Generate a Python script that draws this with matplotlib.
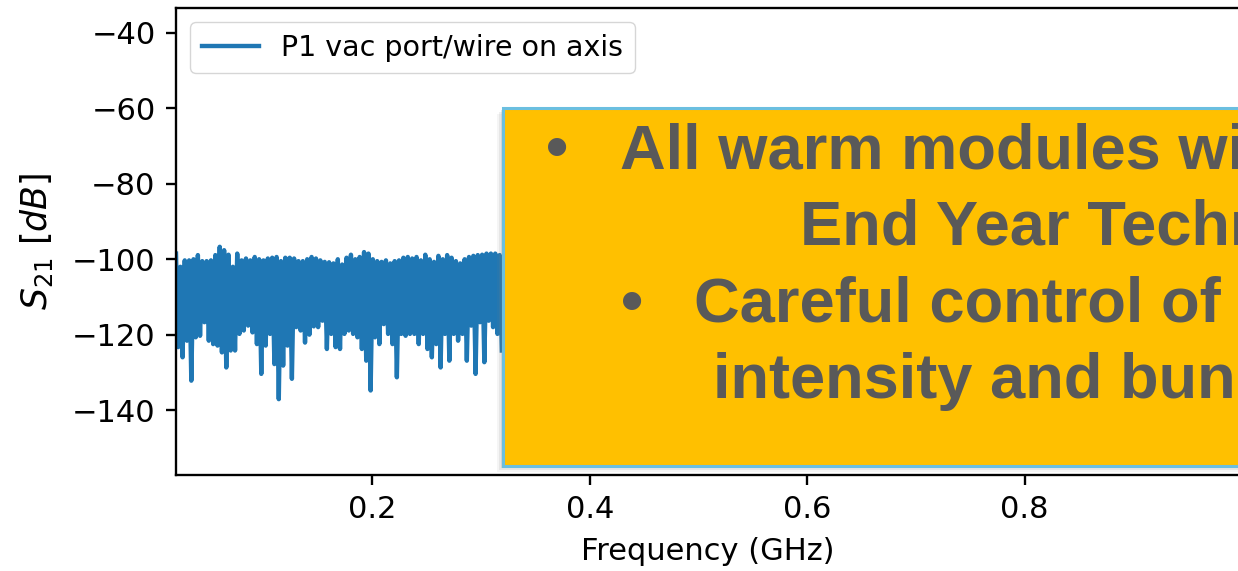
import numpy as np
import matplotlib
matplotlib.use("Agg")
from matplotlib import pyplot as plt
from matplotlib.patches import Rectangle

# S21 noise floor visible left of the overlay box: local maxima and minima (dB)
upper_db = [-98.5, -102.0, -100.3, -100.3, -100.0, -98.9, -100.5, -100.5, -100.3, -98.9,
            -96.7, -97.6, -98.8, -102.0, -98.5, -100.3, -99.8, -100.3, -99.4, -100.0,
            -100.3, -99.8, -99.6, -99.4, -100.5, -99.6, -99.6, -99.8, -100.5, -100.5,
            -100.0, -99.4, -99.8, -100.3, -100.7, -100.8, -101.1, -100.0, -101.4, -99.6,
            -98.8, -100.0, -99.4, -98.1, -98.5, -100.0, -100.5, -100.7, -100.3, -101.1,
            -100.5, -100.3, -99.6, -99.4, -99.8, -99.4, -100.3, -98.8, -100.0, -100.7,
            -99.1, -100.0, -98.9, -99.6, -100.5, -101.1, -100.0, -99.4, -99.1, -98.9,
            -98.8, -98.5, -98.5, -98.5, -98.9]
lower_db = [-123.3, -126.0, -121.6, -132.2, -120.7, -120.3, -116.7, -121.6, -122.5, -122.9,
            -124.7, -128.7, -124.2, -124.2, -119.8, -118.9, -117.6, -119.4, -122.5, -130.4,
            -122.9, -119.8, -127.8, -137.1, -128.2, -122.9, -131.7, -118.0, -118.9, -122.1,
            -120.0, -117.8, -118.0, -116.3, -123.8, -119.8, -123.3, -123.8, -119.8, -118.9,
            -119.8, -120.7, -123.8, -126.9, -134.8, -120.7, -122.5, -117.2, -119.8, -122.5,
            -131.3, -119.8, -120.3, -119.8, -119.8, -122.5, -119.8, -123.8, -126.0, -122.5,
            -128.7, -119.8, -126.9, -119.8, -121.6, -119.8, -126.9, -117.6, -130.4, -116.7,
            -127.3, -116.3, -118.0, -119.8, -124.2]
f_start, f_stop = 0.0193, 0.319  # GHz

legend_label = "P1 vac port/wire on axis"
box_lines = ["All warm modules with", "End Year Technical Stop",
             "Careful control of beam", "intensity and bunch length"]

s21 = np.ravel(np.column_stack([upper_db, lower_db]))
freq = np.linspace(f_start, f_stop, len(s21))

k = 2.1  # overall scale of the default matplotlib look
plt.rcParams.update({
    "font.size": 22,
    "axes.linewidth": 0.8 * k,
    "xtick.major.size": 3.5 * k, "ytick.major.size": 3.5 * k,
    "xtick.major.width": 0.8 * k, "ytick.major.width": 0.8 * k,
    "xtick.major.pad": 3.5 * k, "ytick.major.pad": 3.5 * k,
})

W, H = 1238, 571
fig = plt.figure(figsize=(W / 100, H / 100), dpi=100)
ax = fig.add_axes([176 / W, 96 / H, (1240 - 176) / W, 467 / H])
ax.plot(freq, s21, color="#1f77b4", linewidth=1.5 * k, label=legend_label)
ax.set_xlim(0.0193, 0.998)
ax.set_ylim(-157.2, -33.4)
ax.set_xticks([0.2, 0.4, 0.6, 0.8])
ax.set_yticks([-140, -120, -100, -80, -60, -40])
ax.set_xlabel("Frequency (GHz)", fontsize=22, labelpad=9)
ax.set_ylabel(r"$S_{21}\ [dB]$", fontsize=25, labelpad=12)
ax.legend(loc="upper left", fontsize=20.5)

# overlay box (slide callout)
def px(x, y):
    return x / W, 1 - y / H

bx0, by0, bx1, by1 = 503, 108, 1300, 466
for off, a in [(6, 0.08), (4, 0.12), (2, 0.18)]:
    fig.add_artist(Rectangle(px(bx0 - off, by1 + off), (bx1 - bx0) / W, (by1 - by0) / H,
                             transform=fig.transFigure, facecolor="gray", alpha=a,
                             edgecolor="none", zorder=5))
fig.add_artist(Rectangle(px(bx0, by1), (bx1 - bx0) / W, (by1 - by0) / H,
                         transform=fig.transFigure, facecolor="#FFC000",
                         edgecolor="#6BBFE0", linewidth=2.2, zorder=6))

txt = dict(color="#595959", fontsize=45.5, fontweight="bold", va="baseline", ha="left",
           family=["Liberation Sans", "DejaVu Sans"], zorder=7)
fig.text(*px(557, 168), "\u2022", **{**txt, "ha": "center"})
fig.text(*px(620, 168), box_lines[0], **txt)
fig.text(*px(800, 245), box_lines[1], **txt)
fig.text(*px(632, 322), "\u2022", **{**txt, "ha": "center"})
fig.text(*px(694, 322), box_lines[2], **txt)
fig.text(*px(713, 398), box_lines[3], **txt)

fig.savefig("out.png", dpi=100)
